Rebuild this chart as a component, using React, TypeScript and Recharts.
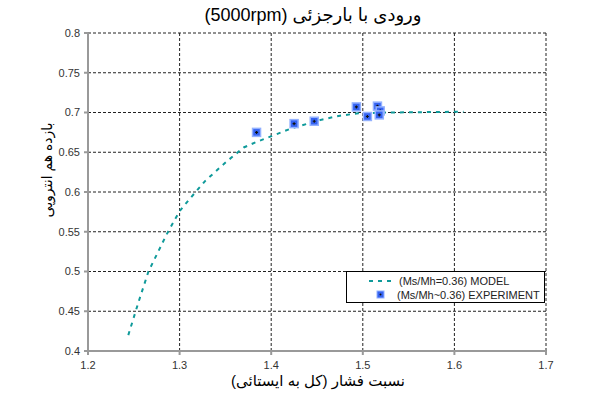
import React from 'react';
import { ScatterChart, Scatter, XAxis, YAxis, CartesianGrid, Legend } from 'recharts';

// model curve (Ms/Mh = 0.36)
const modelX = [1.244, 1.255, 1.266, 1.286, 1.3, 1.313, 1.328, 1.351, 1.37, 1.384, 1.393, 1.422, 1.455, 1.475, 1.495, 1.53, 1.57, 1.61];
const modelY = [0.42, 0.461, 0.5, 0.547, 0.576, 0.594, 0.614, 0.638, 0.656, 0.663, 0.667, 0.68, 0.691, 0.696, 0.699, 0.7, 0.7005, 0.701];

// experiment points
const expX = [1.384, 1.425, 1.447, 1.493, 1.505, 1.516, 1.519, 1.518];
const expY = [0.675, 0.686, 0.689, 0.707, 0.695, 0.708, 0.702, 0.697];

const xTicks = [1.2, 1.3, 1.4, 1.5, 1.6, 1.7];
const yTicks = [0.4, 0.45, 0.5, 0.55, 0.6, 0.65, 0.7, 0.75, 0.8];

const title = 'ورودی با بارجزئی (5000rpm)';
const xLabel = 'نسبت فشار (کل به ایستائی)';
const yLabel = 'بازده هم انتروپی';
const modelName = '(Ms/Mh=0.36) MODEL';
const expName = '(Ms/Mh~0.36) EXPERIMENT';

const modelData = modelX.map((x, i) => ({ x, y: modelY[i] }));
const expData = expX.map((x, i) => ({ x, y: expY[i] }));

const TEAL = '#0f9a9a';
const FONT = '"Liberation Sans", Arial, "DejaVu Sans", sans-serif';

const Marker = (props: any) => {
    const { cx, cy } = props;
    if (cx == null || cy == null) return <g />;
    return (
        <g>
            <rect x={cx - 4} y={cy - 4} width={8} height={8} fill="#3563f2" stroke="#93b1ff" strokeWidth={1.5} />
            <path d={`M${cx - 1.5},${cy}H${cx + 1.5}M${cx},${cy - 1.5}V${cy + 1.5}`} stroke="#111" strokeWidth={1.2} />
        </g>
    );
};

const LegendBox = () => (
    <div style={{ width: 199, height: 32, background: '#fff', border: '1px solid #000', fontFamily: FONT, fontSize: 11, color: '#222', boxSizing: 'border-box' }}>
        <div style={{ display: 'flex', alignItems: 'center', height: 14, marginTop: 2 }}>
            <svg width={52} height={10}>
                <line x1={22} x2={48} y1={5} y2={5} stroke={TEAL} strokeWidth={2} strokeDasharray="4 5" />
            </svg>
            <span>{modelName}</span>
        </div>
        <div style={{ display: 'flex', alignItems: 'center', height: 14 }}>
            <svg width={50} height={12}>
                <rect x={30} y={2} width={7} height={7} fill="#3563f2" stroke="#93b1ff" strokeWidth={1} />
                <circle cx={33.5} cy={5.5} r={1} fill="#111" />
            </svg>
            <span>{expName}</span>
        </div>
    </div>
);

export default function App() {
    return (
        <div style={{ position: 'absolute', left: 0, top: 0, width: 590, height: 394, background: '#fff' }}>
            <ScatterChart width={590} height={394} margin={{ top: 33, right: 44, bottom: 0, left: 0 }}>
                <CartesianGrid stroke="#222" strokeDasharray="3 2" horizontalValues={yTicks} verticalValues={xTicks} />
                <XAxis
                    type="number"
                    dataKey="x"
                    domain={[1.2, 1.7]}
                    ticks={xTicks}
                    height={43}
                    tickSize={4}
                    tickMargin={6}
                    stroke="#999"
                    strokeWidth={2}
                    tick={{ fill: '#333', fontSize: 11, fontFamily: FONT }}
                    allowDataOverflow
                />
                <YAxis
                    type="number"
                    dataKey="y"
                    domain={[0.4, 0.8]}
                    ticks={yTicks}
                    width={88}
                    tickSize={4}
                    tickMargin={4}
                    stroke="#999"
                    strokeWidth={2}
                    tick={{ fill: '#333', fontSize: 11, fontFamily: FONT }}
                    allowDataOverflow
                />
                <Scatter
                    name={modelName}
                    data={modelData}
                    line={{ stroke: TEAL, strokeWidth: 2, strokeDasharray: '4 5' }}
                    lineType="joint"
                    shape={() => <g />}
                    isAnimationActive={false}
                />
                <Scatter name={expName} data={expData} shape={<Marker />} isAnimationActive={false} />
                <Legend
                    layout="horizontal"
                    verticalAlign="middle"
                    align="center"
                    content={() => <LegendBox />}
                    wrapperStyle={{ position: 'absolute', left: 346, top: 271, width: 200, margin: 0 }}
                />
            </ScatterChart>
            <div dir="rtl" style={{ position: 'absolute', left: 0, top: 4, width: 626, textAlign: 'center', fontFamily: FONT, fontSize: 18, color: '#000' }}>
                {title}
            </div>
            <div dir="rtl" style={{ position: 'absolute', left: 0, top: 372, width: 636, textAlign: 'center', fontFamily: FONT, fontSize: 15, color: '#000' }}>
                {xLabel}
            </div>
            <div dir="rtl" style={{ position: 'absolute', left: 47, top: 170, transform: 'translate(-50%, -50%) rotate(-90deg)', whiteSpace: 'nowrap', fontFamily: FONT, fontSize: 14, color: '#000' }}>
                {yLabel}
            </div>
        </div>
    );
}
